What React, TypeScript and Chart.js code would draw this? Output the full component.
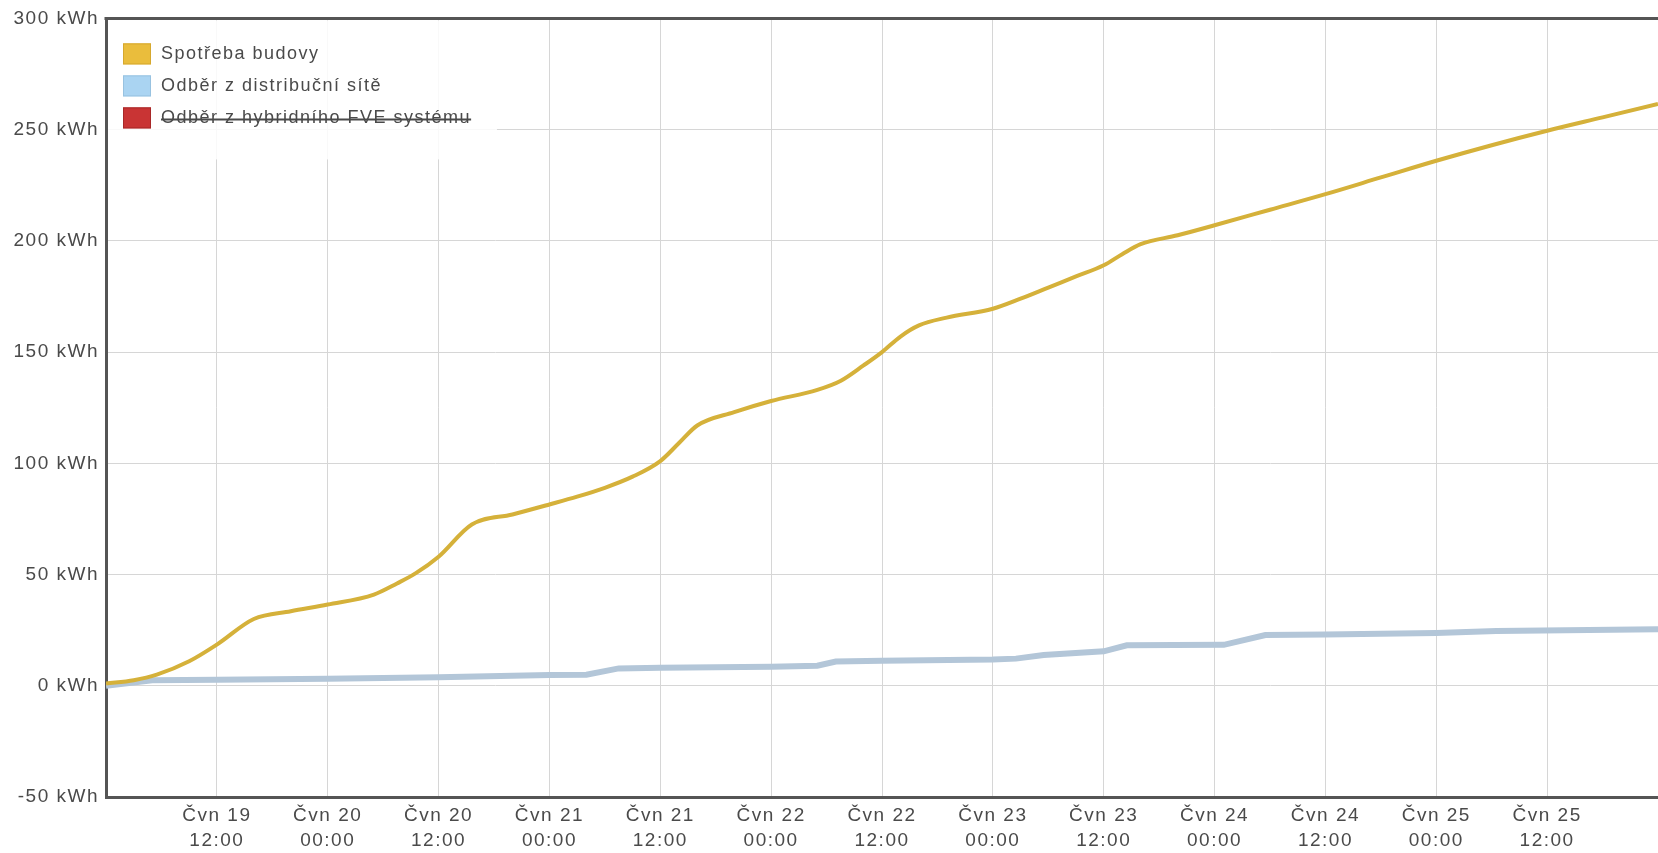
import React, { useEffect, useRef } from 'react';
import { Chart, registerables } from 'chart.js';

Chart.register(...registerables);

// Hours since Čvn 19 00:00 and cumulative energy (kWh)
const SPOTREBA_HOURS = [0, 3, 5.5, 9, 12, 16, 20, 24, 29, 31.5, 33.5, 36, 39.6, 44, 48, 51, 54, 57, 60, 62, 64, 68, 72, 77, 79.5, 82, 84, 86, 88, 91, 96, 99, 102, 105, 108, 110, 112, 116, 120, 126, 132, 138, 144, 150, 156, 162, 168];
const SPOTREBA_KWH = [1, 2.5, 5, 11, 18.5, 30, 33.5, 36.5, 41, 46, 50.5, 58, 72.5, 77, 81.5, 85, 89, 94, 101, 109, 117, 123, 128, 133, 137, 144, 150, 157, 162, 165.5, 169.5, 174, 179, 184, 189, 194, 198.5, 202.5, 207, 214, 221, 228.5, 236, 243, 249.5, 255.5, 261.5];

const DISTRIB_HOURS = [0, 5, 12, 24, 36, 48, 52, 55.5, 60, 72, 77, 79, 84, 96, 98.5, 101.5, 108, 110.5, 121, 125.5, 132, 144, 150.5, 168];
const DISTRIB_KWH = [0, 2.5, 2.7, 3.2, 3.8, 4.8, 5.0, 7.8, 8.1, 8.6, 9.0, 10.9, 11.3, 11.8, 12.2, 13.8, 15.5, 18.2, 18.4, 22.8, 23.0, 23.7, 24.6, 25.4];

const FVE_HOURS: number[] = [];
const FVE_KWH: number[] = [];

const SERIES_LABELS = ['Spotřeba budovy', 'Odběr z distribuční sítě', 'Odběr z hybridního FVE systému'];
const SERIES_HIDDEN = [false, false, true];

const X_TICK_HOURS = [12, 24, 36, 48, 60, 72, 84, 96, 108, 120, 132, 144, 156];
const X_TICK_DAYS = ['Čvn 19', 'Čvn 20', 'Čvn 20', 'Čvn 21', 'Čvn 21', 'Čvn 22', 'Čvn 22', 'Čvn 23', 'Čvn 23', 'Čvn 24', 'Čvn 24', 'Čvn 25', 'Čvn 25'];
const X_TICK_TIMES = ['12:00', '00:00', '12:00', '00:00', '12:00', '00:00', '12:00', '00:00', '12:00', '00:00', '12:00', '00:00', '12:00'];

const Y_MIN = -50;
const Y_MAX = 300;
const Y_STEP = 50;
const X_MIN = 0;
const X_MAX = 168;

const FONT = '"Liberation Sans", Arial, sans-serif';
const TEXT_COLOR = '#4a4a4a';
const LINE_COLORS = ['#d5b13a', '#b3c6d8', '#c83232'];
const BOX_COLORS = ['#eabd3c', '#aad4f2', '#c93434'];
const BOX_BORDERS = ['#d6a82e', '#98c2e0', '#a82828'];

const zip = (xs: number[], ys: number[]) => xs.map((x, i) => ({ x, y: ys[i] }));

const textSpacing = {
  id: 'textSpacing',
  beforeDraw(chart: any) {
    chart.ctx.letterSpacing = '1.5px';
  },
};

const frameAndLegend = {
  id: 'frameAndLegend',
  afterDatasetsDraw(chart: any) {
    const { ctx, chartArea: a } = chart;
    ctx.save();
    ctx.fillStyle = 'rgba(255,255,255,0.85)';
    ctx.fillRect(a.left + 2, a.top + 2, 389, 139);
    ctx.font = `18px ${FONT}`;
    ctx.textBaseline = 'middle';
    ctx.textAlign = 'left';
    chart.data.datasets.forEach((ds: any, i: number) => {
      const bx = a.left + 17;
      const by = a.top + 25 + i * 32;
      ctx.fillStyle = BOX_COLORS[i];
      ctx.fillRect(bx, by, 28, 21);
      ctx.strokeStyle = BOX_BORDERS[i];
      ctx.lineWidth = 1;
      ctx.strokeRect(bx + 0.5, by + 0.5, 27, 20);
      const tx = bx + 38;
      const ty = by + 11;
      ctx.fillStyle = TEXT_COLOR;
      ctx.fillText(ds.label, tx, ty);
      if (!chart.isDatasetVisible(i)) {
        const w = ctx.measureText(ds.label).width;
        ctx.strokeStyle = TEXT_COLOR;
        ctx.lineWidth = 2;
        ctx.beginPath();
        ctx.moveTo(tx, ty + 1);
        ctx.lineTo(tx + w, ty + 1);
        ctx.stroke();
      }
    });
    ctx.restore();
  },
  afterDraw(chart: any) {
    const { ctx, chartArea: a } = chart;
    ctx.save();
    ctx.strokeStyle = '#555555';
    ctx.lineWidth = 3;
    ctx.beginPath();
    ctx.moveTo(a.left - 1.5, a.top);
    ctx.lineTo(a.right, a.top);
    ctx.stroke();
    ctx.restore();
  },
};

export default function App() {
  const canvasRef = useRef<HTMLCanvasElement | null>(null);

  useEffect(() => {
    const canvas = canvasRef.current;
    if (!canvas) return;
    const chart = new Chart(canvas, {
      type: 'line',
      data: {
        datasets: [
          {
            label: SERIES_LABELS[0],
            data: zip(SPOTREBA_HOURS, SPOTREBA_KWH),
            borderColor: LINE_COLORS[0],
            backgroundColor: BOX_COLORS[0],
            borderWidth: 4,
            pointRadius: 0,
            cubicInterpolationMode: 'monotone',
            hidden: SERIES_HIDDEN[0],
          },
          {
            label: SERIES_LABELS[1],
            data: zip(DISTRIB_HOURS, DISTRIB_KWH),
            borderColor: LINE_COLORS[1],
            backgroundColor: BOX_COLORS[1],
            borderWidth: 6,
            pointRadius: 0,
            tension: 0,
            hidden: SERIES_HIDDEN[1],
          },
          {
            label: SERIES_LABELS[2],
            data: zip(FVE_HOURS, FVE_KWH),
            borderColor: LINE_COLORS[2],
            backgroundColor: BOX_COLORS[2],
            borderWidth: 3,
            pointRadius: 0,
            hidden: SERIES_HIDDEN[2],
          },
        ],
      },
      options: {
        responsive: false,
        animation: false,
        parsing: true,
        layout: { padding: { left: 0, right: 0, top: 17, bottom: 0 } },
        plugins: {
          legend: { display: false },
          tooltip: { enabled: false },
        },
        scales: {
          x: {
            type: 'linear',
            min: X_MIN,
            max: X_MAX,
            afterBuildTicks: (scale: any) => {
              scale.ticks = X_TICK_HOURS.map((v) => ({ value: v }));
            },
            afterFit: (scale: any) => {
              scale.height = 56;
            },
            grid: { color: '#d6d6d6', lineWidth: 1, drawTicks: false },
            border: { display: true, color: '#555555', width: 3 },
            ticks: {
              padding: 6,
              maxRotation: 0,
              autoSkip: false,
              color: TEXT_COLOR,
              font: { family: FONT, size: 19, lineHeight: 1.34 },
              callback: (value: any) => {
                const i = X_TICK_HOURS.indexOf(Number(value));
                return i >= 0 ? [X_TICK_DAYS[i], X_TICK_TIMES[i]] : '';
              },
            },
          },
          y: {
            type: 'linear',
            min: Y_MIN,
            max: Y_MAX,
            afterFit: (scale: any) => {
              scale.width = 106;
            },
            grid: { color: '#d6d6d6', lineWidth: 1, drawTicks: false },
            border: { display: true, color: '#555555', width: 3 },
            ticks: {
              stepSize: Y_STEP,
              padding: 7,
              color: TEXT_COLOR,
              font: { family: FONT, size: 19 },
              callback: (value: any) => `${value} kWh`,
            },
          },
        },
      },
      plugins: [textSpacing, frameAndLegend],
    } as any);
    return () => chart.destroy();
  }, []);

  return (
    <div style={{ position: 'fixed', left: 0, top: 0, width: 1658, height: 853, background: '#fff' }}>
      <canvas ref={canvasRef} width={1658} height={853} style={{ display: 'block' }} />
    </div>
  );
}
